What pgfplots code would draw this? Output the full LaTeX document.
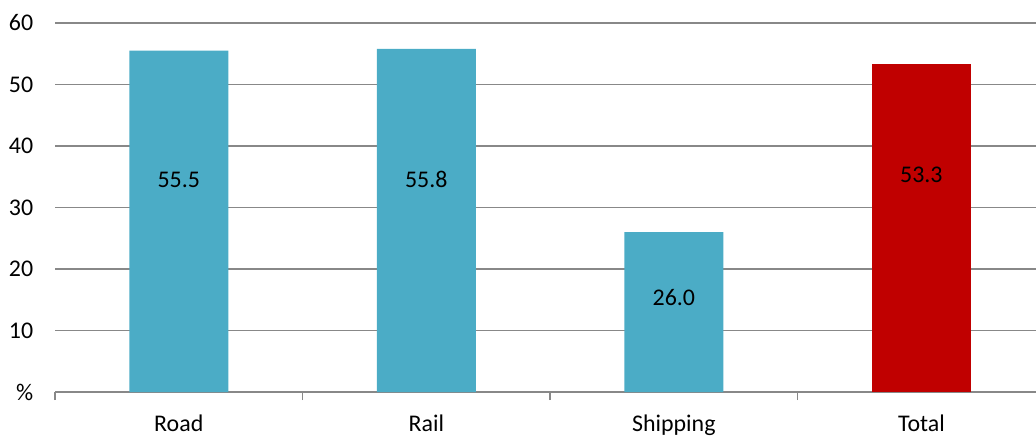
\documentclass[border=0pt]{standalone}
\usepackage{pgfplots}
\pgfplotsset{compat=1.18}
\usepackage{pgfplotstable}
\usepackage{fontspec}
\setmainfont{Carlito}

\definecolor{barteal}{HTML}{4BACC6}
\definecolor{barred}{HTML}{C00000}
\definecolor{gridgrey}{HTML}{888888}

% x: category index, v: value, ly: height of the value label
\pgfplotstableread{
x v ly
0 55.5 34.5
1 55.8 34.5
2 26.0 15.3
}\modes
\pgfplotstableread{
x v ly
3 53.3 35.3
}\total

\begin{document}
\begin{tikzpicture}
\begin{axis}[
  scale only axis,
  width=981bp, height=369bp,
  xmin=-0.5, xmax=3.463,
  ymin=0, ymax=60,
  axis x line*=bottom, axis y line*=left,
  x axis line style={draw=gridgrey, line width=1.4bp},
  y axis line style={draw=none},
  ytick={0,10,...,60},
  yticklabels={\%,10,20,30,40,50,60},
  ytick style={draw=none},
  yticklabel style={anchor=east, xshift=-14bp},
  xtick={0,1,2,3},
  xticklabels={Road,Rail,Shipping,Total},
  xtick style={draw=none},
  xticklabel style={yshift=-15bp},
  minor xtick={-0.5,0.5,1.5,2.5},
  minor tick length=8bp,
  tick align=outside,
  minor x tick style={draw=gridgrey, line width=1.4bp},
  ymajorgrids,
  major grid style={draw=gridgrey, line width=1.4bp},
  ticklabel style={font=\fontsize{24}{28}\selectfont, text=black},
  /pgf/number format/assume math mode=true,
  ybar, bar width=0.4, bar shift=0pt,
  clip=false,
]
\addplot[fill=barteal, draw=none] table[x=x, y=v] {\modes};
\addplot[fill=barred, draw=none] table[x=x, y=v] {\total};
\addplot[draw=none, fill=none, nodes near coords, point meta=explicit symbolic,
  every node near coord/.style={anchor=center, font=\fontsize{24}{28}\selectfont, text=black}]
  table[x=x, y=ly, meta=v] {\modes};
\addplot[draw=none, fill=none, nodes near coords, point meta=explicit symbolic,
  every node near coord/.style={anchor=center, font=\fontsize{24}{28}\selectfont, text=black}]
  table[x=x, y=ly, meta=v] {\total};
\end{axis}
\pgfresetboundingbox
\path (-55bp,-45bp) rectangle (981bp,392bp);
\end{tikzpicture}
\end{document}
